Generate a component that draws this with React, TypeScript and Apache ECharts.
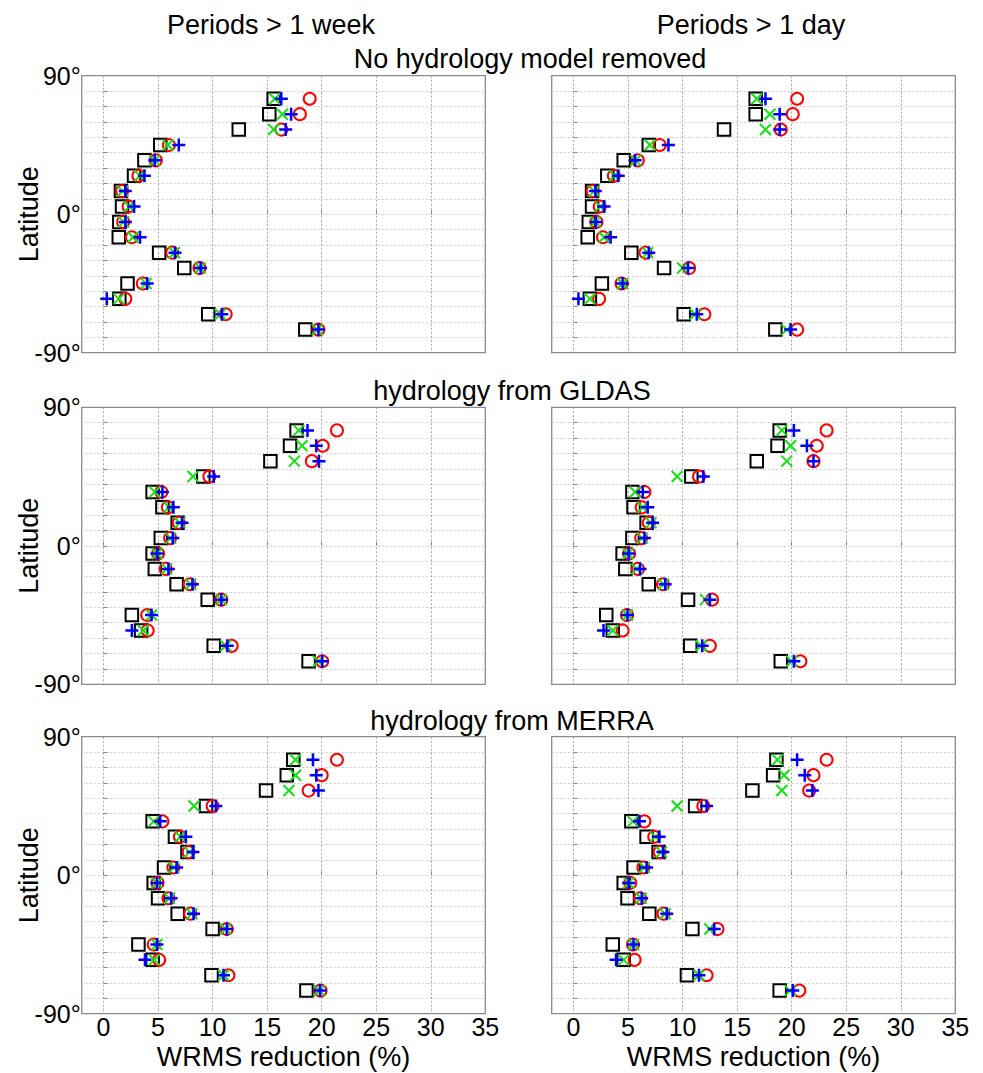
import React, { useEffect, useRef } from "react";
import * as echarts from "echarts";

// ---------- data ----------
const latitudes = [75, 65, 55, 45, 35, 25, 15, 5, -5, -15, -25, -35, -45, -55, -65, -75];
const xRange = [-2, 35];
const yLabelValues = [-90, 0, 90];

const columnTitles = ["Periods > 1 week", "Periods > 1 day"];
const rowTitles = ["No hydrology model removed", "hydrology from GLDAS", "hydrology from MERRA"];
const xAxisTitle = "WRMS reduction (%)";
const yAxisTitle = "Latitude";

// No hydrology model removed, periods > 1 week
const noneWeekSquare = [15.6, 15.2, 12.4, 5.2, 3.75, 2.8, 1.6, 1.7, 1.45, 1.4, 5.1, 7.4, 2.2, 1.45, 9.6, 18.5];
const noneWeekCross = [15.7, 16.4, 15.6, 5.9, 4.7, 3.35, 1.75, 2.35, 1.85, 2.7, 6.5, 8.85, 3.9, 1.4, 10.7, 19.6];
const noneWeekPlus = [16.3, 17.2, 16.7, 6.9, 4.7, 3.75, 2.0, 2.8, 2.0, 3.35, 6.55, 8.9, 4.0, 0.3, 10.85, 19.7];
const noneWeekCircle = [18.9, 18.0, 16.3, 6.0, 4.8, 3.2, 1.7, 2.3, 1.8, 2.6, 6.3, 8.8, 3.6, 2.0, 11.2, 19.7];

// No hydrology model removed, periods > 1 day
const noneDaySquare = [16.7, 16.7, 13.8, 6.9, 4.6, 3.1, 1.7, 1.7, 1.4, 1.3, 5.3, 8.3, 2.6, 1.5, 10.1, 18.5];
const noneDayCross = [16.8, 18.0, 17.6, 7.0, 5.7, 3.75, 1.9, 2.45, 2.0, 2.8, 6.8, 10.0, 4.5, 1.5, 11.15, 19.55];
const noneDayPlus = [17.6, 18.9, 18.9, 8.7, 5.65, 4.1, 2.0, 2.8, 2.05, 3.4, 6.9, 10.5, 4.5, 0.45, 11.3, 19.9];
const noneDayCircle = [20.5, 20.1, 19.0, 7.9, 5.9, 3.7, 1.75, 2.4, 2.1, 2.7, 6.6, 10.6, 4.4, 2.35, 12.0, 20.5];

// GLDAS, periods > 1 week
const gldasWeekSquare = [17.7, 17.1, 15.3, 9.15, 4.5, 5.4, 6.8, 5.25, 4.5, 4.7, 6.7, 9.55, 2.6, 3.45, 10.1, 18.8];
const gldasWeekCross = [17.9, 18.2, 17.5, 8.2, 4.7, 6.0, 7.0, 6.15, 4.9, 5.8, 8.0, 10.8, 4.4, 3.65, 11.2, 19.7];
const gldasWeekPlus = [18.7, 19.5, 19.75, 10.1, 5.4, 6.4, 7.2, 6.35, 4.9, 5.95, 8.15, 10.8, 4.4, 2.6, 11.35, 20.05];
const gldasWeekCircle = [21.4, 20.1, 19.1, 9.7, 5.3, 5.9, 6.9, 6.1, 5.0, 5.7, 7.9, 10.8, 4.0, 4.05, 11.75, 20.05];

// GLDAS, periods > 1 day
const gldasDaySquare = [18.9, 18.7, 16.8, 10.8, 5.4, 5.5, 6.7, 5.4, 4.5, 4.75, 6.9, 10.5, 3.0, 3.6, 10.7, 19.0];
const gldasDayCross = [19.1, 19.9, 19.55, 9.5, 5.65, 6.35, 7.1, 6.3, 5.0, 5.8, 8.25, 12.1, 4.95, 3.6, 11.7, 20.0];
const gldasDayPlus = [20.2, 21.4, 22.0, 11.9, 6.35, 6.8, 7.25, 6.5, 5.05, 6.1, 8.4, 12.5, 4.95, 2.75, 11.8, 20.2];
const gldasDayCircle = [23.2, 22.3, 22.0, 11.5, 6.5, 6.25, 6.9, 6.2, 5.1, 5.9, 8.2, 12.7, 4.9, 4.5, 12.5, 20.8];

// MERRA, periods > 1 week
const merraWeekSquare = [17.4, 16.8, 14.9, 9.4, 4.5, 6.55, 7.7, 5.55, 4.6, 5.0, 6.8, 10.0, 3.2, 4.5, 9.9, 18.6];
const merraWeekCross = [17.6, 17.6, 17.0, 8.3, 4.6, 7.05, 7.9, 6.45, 4.9, 6.05, 8.1, 11.2, 4.9, 4.65, 11.0, 19.8];
const merraWeekPlus = [19.2, 19.5, 19.7, 10.3, 5.2, 7.55, 8.2, 6.7, 4.9, 6.2, 8.25, 11.3, 4.9, 3.8, 11.0, 19.85];
const merraWeekCircle = [21.4, 20.0, 18.8, 10.0, 5.4, 7.0, 7.8, 6.4, 4.95, 5.95, 7.95, 11.3, 4.6, 5.1, 11.45, 19.9];

// MERRA, periods > 1 day
const merraDaySquare = [18.6, 18.3, 16.4, 11.15, 5.3, 6.7, 7.8, 5.5, 4.6, 4.95, 6.95, 10.9, 3.6, 4.6, 10.4, 18.9];
const merraDayCross = [18.7, 19.3, 19.1, 9.5, 5.45, 7.5, 8.05, 6.5, 5.05, 6.2, 8.4, 12.5, 5.5, 4.6, 11.5, 19.85];
const merraDayPlus = [20.5, 21.2, 21.9, 12.2, 6.05, 7.85, 8.2, 6.7, 5.05, 6.25, 8.55, 12.9, 5.5, 3.9, 11.5, 20.1];
const merraDayCircle = [23.2, 22.0, 21.6, 11.9, 6.5, 7.4, 7.9, 6.4, 5.2, 6.1, 8.25, 13.2, 5.45, 5.6, 12.2, 20.7];

// panels in row-major order: [row][col]
const panelData = [
  [
    { square: noneWeekSquare, cross: noneWeekCross, plus: noneWeekPlus, circle: noneWeekCircle },
    { square: noneDaySquare, cross: noneDayCross, plus: noneDayPlus, circle: noneDayCircle },
  ],
  [
    { square: gldasWeekSquare, cross: gldasWeekCross, plus: gldasWeekPlus, circle: gldasWeekCircle },
    { square: gldasDaySquare, cross: gldasDayCross, plus: gldasDayPlus, circle: gldasDayCircle },
  ],
  [
    { square: merraWeekSquare, cross: merraWeekCross, plus: merraWeekPlus, circle: merraWeekCircle },
    { square: merraDaySquare, cross: merraDayCross, plus: merraDayPlus, circle: merraDayCircle },
  ],
];

// ---------- layout / style ----------
const FONT = "'Liberation Sans', Arial, Helvetica, sans-serif";
const gridLefts = [81.7, 551.7];
const gridTops = [75.7, 407.3, 736.7];
const GRID_W = 403.6;
const GRID_H = 277;

const CROSS_PATH = "path://M0 0L10 10M10 0L0 10";
const PLUS_PATH = "path://M5 0L5 10M0 5L10 5";

const markerDefs = [
  { key: "square", symbol: "rect", size: 12.5, color: "#000000", width: 2 },
  { key: "circle", symbol: "circle", size: 12, color: "#ff0000", width: 2 },
  { key: "cross", symbol: CROSS_PATH, size: 11, color: "#14e014", width: 2 },
  { key: "plus", symbol: PLUS_PATH, size: 13, color: "#0000ff", width: 2.5 },
];

function buildOption() {
  const grids: any[] = [];
  const xAxes: any[] = [];
  const yAxes: any[] = [];
  const series: any[] = [];
  const graphics: any[] = [];
  const hGridLine = { color: "#cccccc", width: 1, type: [2, 2] };
  const vGridLine = { color: "#a6a6a6", width: 1, type: [2, 2] };

  let idx = 0;
  for (let r = 0; r < 3; r++) {
    for (let c = 0; c < 2; c++) {
      grids.push({
        left: gridLefts[c],
        top: gridTops[r],
        width: GRID_W,
        height: GRID_H,
        show: true,
        borderColor: "#8a8a8a",
        borderWidth: 1.3,
        backgroundColor: "transparent",
        containLabel: false,
      });
      xAxes.push({
        gridIndex: idx,
        type: "value",
        min: xRange[0],
        max: xRange[1],
        splitNumber: 7,
        axisLine: { show: false },
        axisTick: {
          show: true,
          inside: true,
          length: 4,
          lineStyle: { color: "#8a8a8a" },
        },
        axisLabel: {
          show: r === 2,
          showMinLabel: false,
          formatter: (v: number) => (v < 0 ? "" : `${v}`),
          fontSize: 25,
          color: "#000",
          fontFamily: FONT,
          margin: 1,
        },
        splitLine: { show: true, showMinLine: false, showMaxLine: false, lineStyle: vGridLine },
      });
      yAxes.push({
        gridIndex: idx,
        type: "value",
        min: -90,
        max: 90,
        interval: 10,
        axisLine: { show: false },
        axisTick: { show: true, inside: true, length: 4, lineStyle: { color: "#8a8a8a" } },
        axisLabel: {
          show: c === 0,
          customValues: yLabelValues,
          formatter: (v: number) => `${v}°`,
          fontSize: 25,
          color: "#000",
          fontFamily: FONT,
          margin: 1,
        },
        splitLine: { show: true, showMinLine: false, showMaxLine: false, lineStyle: hGridLine },
      });

      const p: any = panelData[r][c];
      for (const m of markerDefs) {
        const vals: number[] = p[m.key];
        series.push({
          type: "scatter",
          name: m.key,
          xAxisIndex: idx,
          yAxisIndex: idx,
          symbol: m.symbol,
          symbolSize: m.size,
          z: 3,
          data: vals.map((v, i) => [v, latitudes[i]]),
          itemStyle: {
            color: "rgba(0,0,0,0)",
            borderColor: m.color,
            borderWidth: m.width,
            opacity: 1,
          },
          emphasis: { disabled: true },
          silent: true,
        });
      }
      idx++;
    }
  }

  const titleStyle = (text: string, x: number, y: number, rotation = 0) => ({
    type: "text",
    x,
    y,
    rotation,
    style: {
      text,
      fontSize: 27,
      fontFamily: FONT,
      fill: "#000",
      align: "center",
      verticalAlign: "middle",
    },
  });

  graphics.push(titleStyle(columnTitles[0], 271, 25));
  graphics.push(titleStyle(columnTitles[1], 751, 25));
  graphics.push(titleStyle(rowTitles[0], 530, 59));
  graphics.push(titleStyle(rowTitles[1], 512, 391));
  graphics.push(titleStyle(rowTitles[2], 512, 721));
  for (let r = 0; r < 3; r++) {
    graphics.push(titleStyle(yAxisTitle, 29, gridTops[r] + GRID_H / 2, Math.PI / 2));
  }
  for (let c = 0; c < 2; c++) {
    graphics.push(titleStyle(xAxisTitle, gridLefts[c] + GRID_W / 2, 1057));
  }

  return {
    animation: false,
    backgroundColor: "#ffffff",
    grid: grids,
    xAxis: xAxes,
    yAxis: yAxes,
    series,
    graphic: graphics,
  };
}

export default function App() {
  const ref = useRef<HTMLDivElement>(null);
  useEffect(() => {
    if (!ref.current) return;
    const chart = echarts.init(ref.current, undefined, { renderer: "svg" });
    chart.setOption(buildOption() as any);
    return () => chart.dispose();
  }, []);
  return (
    <div
      ref={ref}
      style={{ position: "absolute", left: 0, top: 0, width: 983, height: 1073, background: "#fff" }}
    />
  );
}
